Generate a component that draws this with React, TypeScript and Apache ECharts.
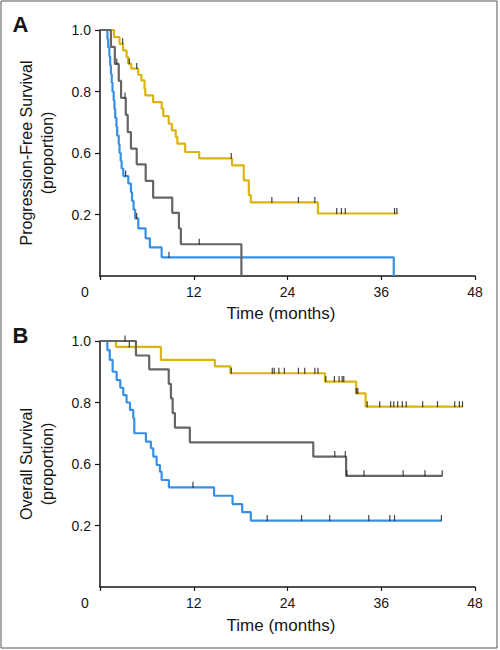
import React, { useEffect, useRef } from 'react';
import * as echarts from 'echarts';

// ---------- DATA (months, proportion along the drawn axis) ----------
const xTicks = [0, 12, 24, 36, 48];
const yTickPositions = [1, 0.75, 0.5, 0.25];
const yTickLabels = ['1.0', '0.8', '0.6', '0.2'];

// Panel A – progression-free survival
const pfsYellow = [[0, 1], [1.8, 0.971], [2.5, 0.944], [2.95, 0.917], [3.4, 0.89], [3.6, 0.863], [4.0, 0.843], [4.9, 0.818], [5.3, 0.795], [5.7, 0.761], [5.8, 0.734], [6.8, 0.707], [7.9, 0.68], [8.1, 0.65], [8.8, 0.619], [9.2, 0.592], [9.7, 0.565], [9.9, 0.538], [10.9, 0.504], [12.7, 0.478], [16.9, 0.45], [18.4, 0.389], [19.05, 0.329], [19.3, 0.299], [27.9, 0.254], [38.1, 0.254]];
const pfsYellowCensor = [[2.9, 0.944], [3.75, 0.863], [4.7, 0.843], [16.8, 0.478], [22.0, 0.299], [25.4, 0.299], [27.5, 0.299], [30.3, 0.254], [30.9, 0.254], [31.4, 0.254], [37.7, 0.254], [38.0, 0.254]];
const pfsGray = [[0, 1], [1.4, 0.931], [1.9, 0.862], [2.4, 0.793], [2.7, 0.724], [3.3, 0.655], [3.55, 0.585], [3.96, 0.518], [4.7, 0.454], [5.85, 0.387], [6.8, 0.319], [9.25, 0.257], [10.1, 0.193], [10.35, 0.129], [18.1, 0.129], [18.1, 0]];
const pfsGrayCensor = [[2.15, 0.862], [3.2, 0.724], [12.7, 0.129]];
const pfsBlue = [[0, 1], [0.95, 0.964], [1.05, 0.929], [1.2, 0.893], [1.3, 0.857], [1.4, 0.821], [1.5, 0.786], [1.6, 0.75], [1.75, 0.714], [1.85, 0.679], [1.95, 0.643], [2.1, 0.607], [2.2, 0.571], [2.4, 0.536], [2.5, 0.5], [2.65, 0.468], [2.77, 0.437], [2.98, 0.406], [3.62, 0.376], [3.96, 0.341], [4.1, 0.305], [4.3, 0.27], [4.5, 0.234], [4.9, 0.194], [5.84, 0.153], [6.39, 0.116], [7.89, 0.076], [37.6, 0.076], [37.6, 0]];
const pfsBlueCensor = [[3.28, 0.406], [4.69, 0.234], [8.83, 0.076]];

// Panel B – overall survival
const osYellow = [[0, 1], [2.05, 0.976], [7.8, 0.923], [14.7, 0.897], [16.7, 0.869], [28.8, 0.835], [32.8, 0.787], [34.0, 0.733], [46.4, 0.733]];
const osYellowCensor = [[3.75, 0.976], [16.8, 0.869], [22.05, 0.869], [22.3, 0.869], [22.9, 0.869], [23.6, 0.869], [25.4, 0.869], [26.2, 0.869], [27.5, 0.869], [27.9, 0.869], [28.9, 0.835], [30.0, 0.835], [30.6, 0.835], [31.0, 0.835], [31.2, 0.835], [32.8, 0.787], [33.0, 0.787], [34.2, 0.733], [35.8, 0.733], [37.2, 0.733], [37.6, 0.733], [38.1, 0.733], [38.7, 0.733], [39.2, 0.733], [41.3, 0.733], [43.2, 0.733], [45.4, 0.733], [46.0, 0.733], [46.4, 0.733]];
const osGray = [[0, 1], [4.6, 0.941], [6.3, 0.885], [8.8, 0.826], [9.08, 0.767], [9.3, 0.707], [9.59, 0.648], [11.5, 0.588], [27.3, 0.53], [31.5, 0.452], [43.8, 0.452]];
const osGrayCensor = [[3.2, 1], [30.05, 0.53], [31.4, 0.53], [31.6, 0.452], [33.8, 0.452], [38.8, 0.452], [41.6, 0.452], [43.8, 0.452]];
const osBlue = [[0, 1], [0.94, 0.963], [1.25, 0.923], [1.62, 0.875], [2.13, 0.841], [2.6, 0.81], [2.98, 0.78], [3.4, 0.75], [3.84, 0.72], [4.26, 0.686], [4.39, 0.625], [5.88, 0.591], [6.52, 0.564], [6.82, 0.53], [7.25, 0.496], [7.67, 0.469], [7.89, 0.435], [8.82, 0.405], [14.6, 0.371], [16.97, 0.337], [18.2, 0.304], [19.3, 0.27], [43.7, 0.27]];
const osBlueCensor = [[11.9, 0.405], [21.4, 0.27], [25.8, 0.27], [29.4, 0.27], [34.4, 0.27], [37.1, 0.27], [37.7, 0.27], [43.7, 0.27]];

// ---------- STYLE ----------
const FONT = '"Liberation Sans", Arial, Helvetica, sans-serif';
const INK = '#161616';
const YELLOW = '#DDB30F';
const GRAY = '#656565';
const BLUE = '#3890E6';

function buildOption() {
  const grids = [
    { left: 100, top: 30, width: 375, height: 246 },
    { left: 100, top: 341, width: 375, height: 246 },
  ];
  const axisLine = { show: true, lineStyle: { color: INK, width: 1.5 } };
  const xAxes = [0, 1].map((i) => ({
    type: 'value', gridIndex: i, min: 0, max: 48, interval: 12,
    axisLine, splitLine: { show: false },
    axisTick: { show: true, length: 4, lineStyle: { color: INK, width: 1.2 }, customValues: xTicks },
    axisLabel: {
      margin: 9, fontSize: 14, color: INK, fontFamily: FONT, customValues: xTicks,
      formatter: (v: number) => (v === 0 ? '' : String(v)),
    },
  }));
  const yAxes = [0, 1].map((i) => ({
    type: 'value', gridIndex: i, min: 0, max: 1, interval: 0.25,
    axisLine, splitLine: { show: false },
    axisTick: { show: true, length: 5, lineStyle: { color: INK, width: 1.2 }, customValues: yTickPositions },
    axisLabel: {
      margin: 9, fontSize: 14, color: INK, fontFamily: FONT, customValues: yTickPositions,
      formatter: (v: number) => {
        const k = yTickPositions.findIndex((p) => Math.abs(p - v) < 1e-6);
        return k >= 0 ? yTickLabels[k] : '';
      },
    },
  }));
  const line = (data: number[][], color: string, i: number, z: number) => ({
    type: 'line', xAxisIndex: i, yAxisIndex: i, data, step: 'end',
    showSymbol: false, symbol: 'none', z,
    lineStyle: { color, width: 2.2 }, silent: true,
  });
  const cens = (data: number[][], i: number) => ({
    type: 'scatter', xAxisIndex: i, yAxisIndex: i, data, z: 10,
    symbol: 'rect', symbolSize: [1.2, 6], symbolOffset: [0, -2.5],
    itemStyle: { color: INK }, silent: true,
  });
  const txt = (text: string, x: number, y: number, size: number, rot = 0, bold = false) => ({
    type: 'text', x, y, rotation: rot, silent: true,
    style: {
      text, fill: INK, fontSize: size, fontFamily: FONT, fontWeight: bold ? 'bold' : 'normal',
      align: 'center', verticalAlign: 'middle', textAlign: 'center', textVerticalAlign: 'middle',
    },
  });
  return {
    animation: false,
    backgroundColor: '#ffffff',
    grid: grids,
    xAxis: xAxes,
    yAxis: yAxes,
    series: [
      line(pfsBlue, BLUE, 0, 2), line(pfsYellow, YELLOW, 0, 3), line(pfsGray, GRAY, 0, 4),
      cens(pfsYellowCensor, 0), cens(pfsGrayCensor, 0), cens(pfsBlueCensor, 0),
      line(osBlue, BLUE, 1, 2), line(osYellow, YELLOW, 1, 3), line(osGray, GRAY, 1, 4),
      cens(osYellowCensor, 1), cens(osGrayCensor, 1), cens(osBlueCensor, 1),
    ],
    graphic: [
      { type: 'rect', shape: { x: 1, y: 1, width: 496, height: 647 }, style: { fill: 'none', stroke: '#555', lineWidth: 1 }, silent: true },
      txt('A', 20.5, 24, 22, 0, true),
      txt('B', 20.5, 335, 22, 0, true),
      txt('Progression-Free Survival', 26, 153, 16, Math.PI / 2),
      txt('(proportion)', 47, 153, 16, Math.PI / 2),
      txt('Overall Survival', 26, 464, 16, Math.PI / 2),
      txt('(proportion)', 47, 464, 16, Math.PI / 2),
      txt('Time (months)', 281, 313, 17),
      txt('Time (months)', 281, 625, 17),
      txt('0', 85, 292, 14),
      txt('0', 85, 603, 14),
    ],
  };
}

export default function App() {
  const ref = useRef<HTMLDivElement>(null);
  useEffect(() => {
    if (!ref.current) return;
    const chart = echarts.init(ref.current, null, { renderer: 'svg' });
    chart.setOption(buildOption() as any);
    return () => chart.dispose();
  }, []);
  return (
    <div
      ref={ref}
      style={{ position: 'absolute', left: 0, top: 0, width: 500, height: 650, background: '#fff' }}
    />
  );
}
